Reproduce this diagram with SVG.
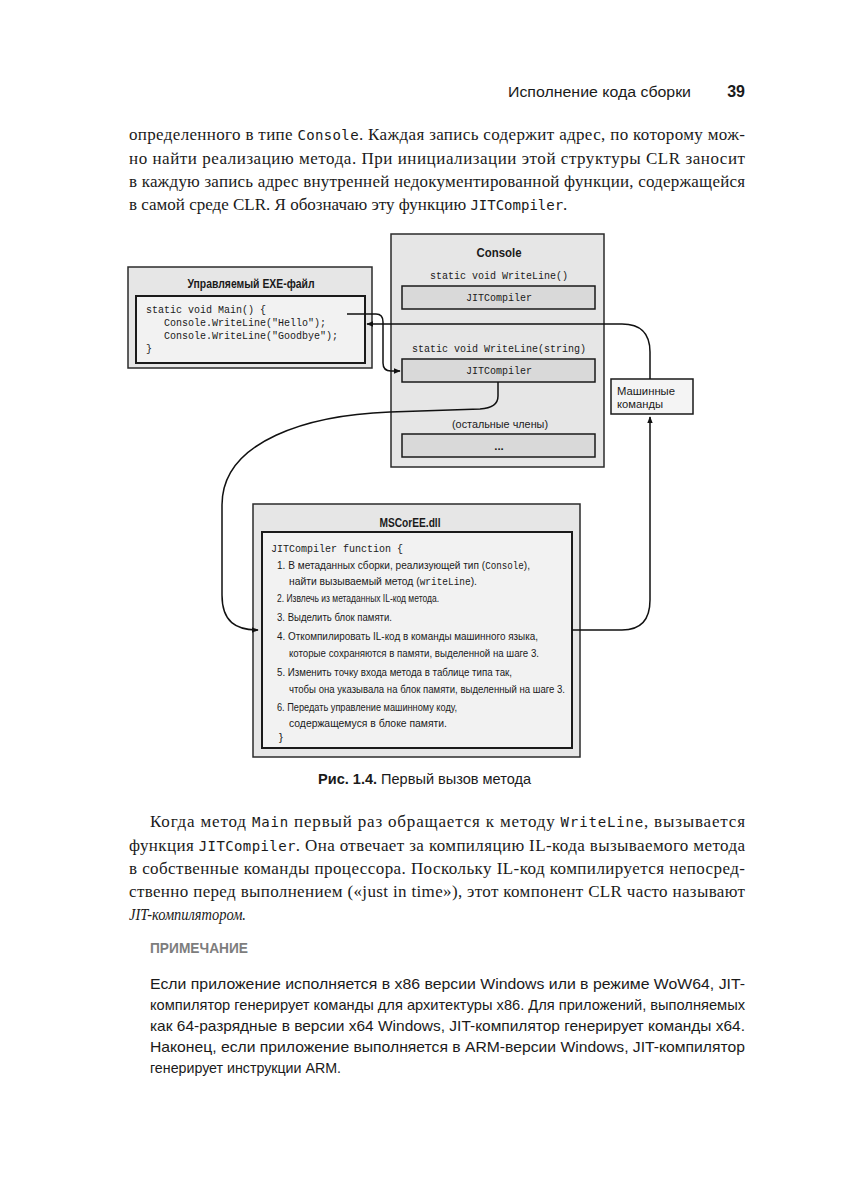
<svg xmlns="http://www.w3.org/2000/svg" width="849" height="1200" viewBox="0 0 849 1200">
<style>
.serif{font-family:"Liberation Serif","Times New Roman",serif;font-size:17px;fill:#1a1a1a}
.smono{font-family:"DejaVu Sans Mono","Liberation Mono",monospace;font-size:14px}
.mono{font-family:"Liberation Mono","Courier New",monospace;font-size:10px;fill:#1a1a1a}
.sans{font-family:"Liberation Sans",Arial,sans-serif;fill:#1a1a1a}
.title{font-family:"Liberation Sans",Arial,sans-serif;font-size:13px;font-weight:bold;fill:#1a1a1a}
.step{font-family:"Liberation Sans",Arial,sans-serif;font-size:11.5px;fill:#1a1a1a}
.note{font-family:"Liberation Sans",Arial,sans-serif;font-size:14.5px;fill:#1a1a1a}
.outer{fill:#e6e6e6;stroke:#2b2b2b;stroke-width:1.5}
.inner{fill:#f2f2f2;stroke:#1a1a1a;stroke-width:2}
.slot{fill:#d9d9d9;stroke:#1a1a1a;stroke-width:1.5}
.conn{fill:none;stroke:#111;stroke-width:1.5}
</style>
<defs>
<marker id="arr" viewBox="0 0 10 10" refX="9" refY="5" markerWidth="7" markerHeight="7" orient="auto" markerUnits="userSpaceOnUse">
<path d="M0,1 L10,5 L0,9 z" fill="#111"/>
</marker>
</defs>
<rect width="849" height="1200" fill="#ffffff"/>

<!-- page header -->
<text class="sans" x="508" y="97" font-size="15.5" textLength="183" lengthAdjust="spacingAndGlyphs">Исполнение кода сборки</text>
<text class="sans" x="745" y="97" font-size="16" font-weight="bold" text-anchor="end">39</text>

<!-- top paragraph -->
<text class="serif" x="129" y="140" textLength="616" lengthAdjust="spacing">определенного в типе <tspan class="smono">Console</tspan>. Каждая запись содержит адрес, по которому мож-</text>
<text class="serif" x="129" y="164" textLength="616" lengthAdjust="spacing">но найти реализацию метода. При инициализации этой структуры CLR заносит</text>
<text class="serif" x="129" y="187" textLength="616" lengthAdjust="spacing">в каждую запись адрес внутренней недокументированной функции, содержащейся</text>
<text class="serif" x="129" y="210">в самой среде CLR. Я обозначаю эту функцию <tspan class="smono">JITCompiler</tspan>.</text>

<!-- EXE node -->
<g id="exe">
<rect class="outer" x="128" y="267" width="244" height="101"/>
<text class="title" x="251" y="288" text-anchor="middle" textLength="127" lengthAdjust="spacingAndGlyphs">Управляемый EXE-файл</text>
<rect class="inner" x="136" y="296" width="229" height="67"/>
<text class="mono" x="146" y="313">static void Main() {</text>
<text class="mono" x="164" y="326">Console.WriteLine("Hello");</text>
<text class="mono" x="164" y="339">Console.WriteLine("Goodbye");</text>
<text class="mono" x="146" y="352">}</text>
</g>

<!-- Console node -->
<g id="console">
<rect class="outer" x="391" y="234" width="213" height="233"/>
<text class="title" x="499" y="257" text-anchor="middle" textLength="45" lengthAdjust="spacingAndGlyphs">Console</text>
<text class="mono" x="499" y="279" text-anchor="middle">static void WriteLine()</text>
<rect class="slot" x="402" y="286" width="193" height="23"/>
<text class="mono" x="499" y="301" text-anchor="middle">JITCompiler</text>
<text class="mono" x="499" y="352" text-anchor="middle">static void WriteLine(string)</text>
<rect class="slot" x="402" y="359" width="193" height="23"/>
<text class="mono" x="499" y="374" text-anchor="middle">JITCompiler</text>
<text class="step" x="500" y="428" font-size="12.5" text-anchor="middle" textLength="96" lengthAdjust="spacingAndGlyphs">(остальные члены)</text>
<rect class="slot" x="402" y="434" width="193" height="23"/>
<text class="step" x="499" y="450" text-anchor="middle" font-weight="bold">...</text>
</g>

<!-- Machine code node -->
<g id="machine">
<rect x="611" y="379" width="82" height="35" fill="#f4f4f4" stroke="#1a1a1a" stroke-width="1.5"/>
<text class="step" x="617" y="395" font-size="12.5" textLength="58" lengthAdjust="spacingAndGlyphs">Машинные</text>
<text class="step" x="617" y="408" font-size="12.5" textLength="46" lengthAdjust="spacingAndGlyphs">команды</text>
</g>

<!-- MSCorEE node -->
<g id="mscoree">
<rect class="outer" x="253" y="504" width="327" height="253"/>
<text class="title" x="410" y="527" text-anchor="middle" textLength="61" lengthAdjust="spacingAndGlyphs">MSCorEE.dll</text>
<rect class="inner" x="262" y="532" width="310" height="216"/>
<text class="mono" x="271" y="552">JITCompiler function {</text>
<text class="step" x="277" y="569" textLength="253" lengthAdjust="spacingAndGlyphs">1. В метаданных сборки, реализующей тип (<tspan font-family="Liberation Mono, monospace" font-size="10.5">Console</tspan>),</text>
<text class="step" x="289" y="585" textLength="188" lengthAdjust="spacingAndGlyphs">найти вызываемый метод (<tspan font-family="Liberation Mono, monospace" font-size="10.5">writeLine</tspan>).</text>
<text class="step" x="277" y="602" textLength="162" lengthAdjust="spacingAndGlyphs">2. Извлечь из метаданных IL-код метода.</text>
<text class="step" x="277" y="621" textLength="115" lengthAdjust="spacingAndGlyphs">3. Выделить блок памяти.</text>
<text class="step" x="277" y="640" textLength="261" lengthAdjust="spacingAndGlyphs">4. Откомпилировать IL-код в команды машинного языка,</text>
<text class="step" x="289" y="657" textLength="250" lengthAdjust="spacingAndGlyphs">которые сохраняются в памяти, выделенной на шаге 3.</text>
<text class="step" x="277" y="676" textLength="235" lengthAdjust="spacingAndGlyphs">5. Изменить точку входа метода в таблице типа так,</text>
<text class="step" x="289" y="693" textLength="276" lengthAdjust="spacingAndGlyphs">чтобы она указывала на блок памяти, выделенный на шаге 3.</text>
<text class="step" x="277" y="711" textLength="180" lengthAdjust="spacingAndGlyphs">6. Передать управление машинному коду,</text>
<text class="step" x="289" y="727" textLength="158" lengthAdjust="spacingAndGlyphs">содержащемуся в блоке памяти.</text>
<text class="step" x="279" y="741">}</text>
</g>

<!-- connectors (drawn over the boxes) -->
<g id="connectors">
<path class="conn" d="M347,314 L376,314 Q383,314 383,322 L383,363 Q383,371 391,371 L400,371" marker-end="url(#arr)"/>
<path class="conn" d="M650,379 L650,352 Q650,324 622,324 L367,324" marker-end="url(#arr)"/>
<path class="conn" d="M498,382 L498,396 Q498,408 480,409 L390,412 C310,415 222,440 222,505 L222,595 C222,622 236,630 258,630" marker-end="url(#arr)"/>
<path class="conn" d="M572,630 L622,630 Q650,630 650,600 L650,417" marker-end="url(#arr)"/>
</g>

<!-- caption -->
<text class="sans" x="318" y="784" font-size="14" textLength="213" lengthAdjust="spacingAndGlyphs"><tspan font-weight="bold">Рис. 1.4.</tspan> Первый вызов метода</text>

<!-- second paragraph -->
<text class="serif" x="150" y="827" textLength="595" lengthAdjust="spacing">Когда метод <tspan class="smono">Main</tspan> первый раз обращается к методу <tspan class="smono">WriteLine</tspan>, вызывается</text>
<text class="serif" x="129" y="851" textLength="616" lengthAdjust="spacing">функция <tspan class="smono">JITCompiler</tspan>. Она отвечает за компиляцию IL-кода вызываемого метода</text>
<text class="serif" x="129" y="874" textLength="616" lengthAdjust="spacing">в собственные команды процессора. Поскольку IL-код компилируется непосред-</text>
<text class="serif" x="129" y="897" textLength="616" lengthAdjust="spacing">ственно перед выполнением («just in time»), этот компонент CLR часто называют</text>
<text class="serif" x="129" y="920" font-style="italic" textLength="117" lengthAdjust="spacingAndGlyphs">JIT-компилятором.</text>

<!-- note -->
<text class="sans" x="150" y="953" font-size="14" font-weight="bold" style="fill:#7d7d7d" textLength="98" lengthAdjust="spacingAndGlyphs">ПРИМЕЧАНИЕ</text>
<text class="note" x="150" y="989" textLength="595" lengthAdjust="spacingAndGlyphs">Если приложение исполняется в x86 версии Windows или в режиме WoW64, JIT-</text>
<text class="note" x="150" y="1010" textLength="595" lengthAdjust="spacingAndGlyphs">компилятор генерирует команды для архитектуры x86. Для приложений, выполняемых</text>
<text class="note" x="150" y="1031" textLength="595" lengthAdjust="spacingAndGlyphs">как 64-разрядные в версии x64 Windows, JIT-компилятор генерирует команды x64.</text>
<text class="note" x="150" y="1052" textLength="595" lengthAdjust="spacingAndGlyphs">Наконец, если приложение выполняется в ARM-версии Windows, JIT-компилятор</text>
<text class="note" x="150" y="1073" textLength="191" lengthAdjust="spacingAndGlyphs">генерирует инструкции ARM.</text>
</svg>
